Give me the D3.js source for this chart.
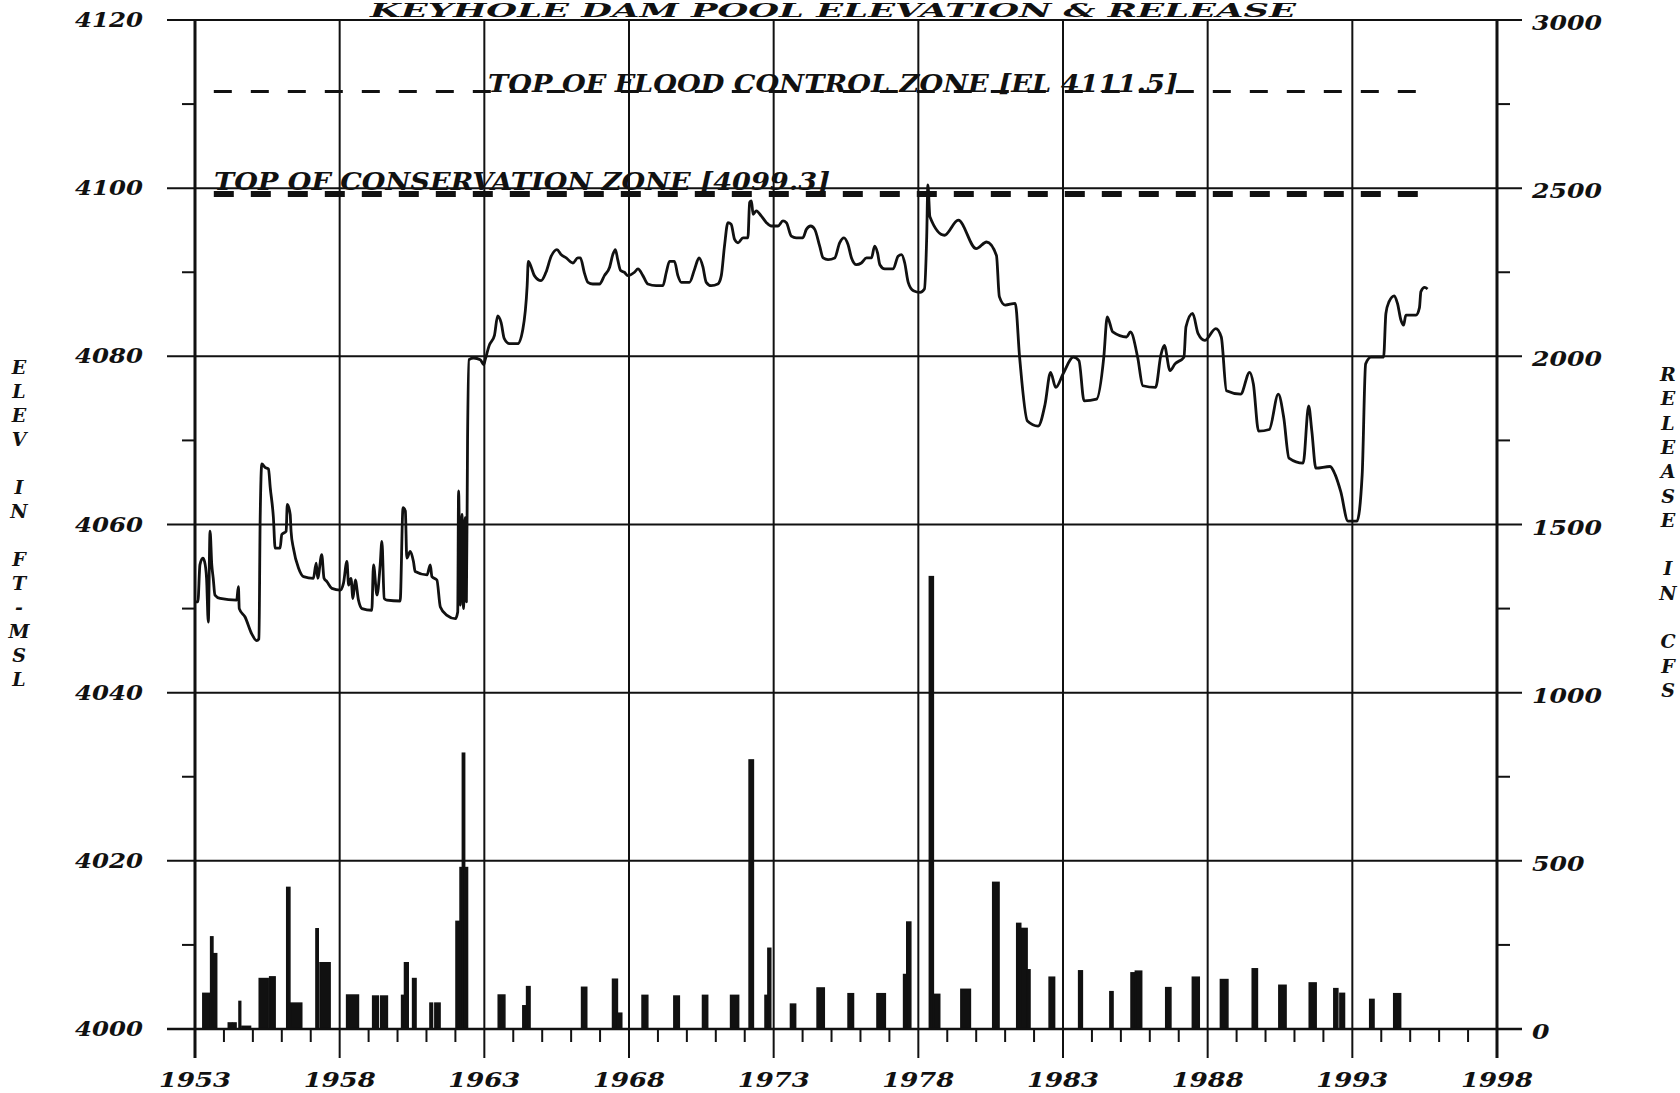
<!DOCTYPE html>
<html><head><meta charset="utf-8">
<script src="https://cdn.jsdelivr.net/npm/d3@7"></script>
<style>
html,body{margin:0;padding:0;background:#fff;}
svg{display:block;}
text{font-family:"DejaVu Serif",serif;font-weight:bold;font-style:italic;fill:#111;}
</style></head>
<body>
<svg id="chart" width="1680" height="1093"></svg>
<script>
// ---------- DATA ----------
const titleText = "KEYHOLE DAM POOL ELEVATION & RELEASE";
const leftTitle = "ELEV IN FT-MSL";
const rightTitle = "RELEASE IN CFS";
const yearTicks = [1953,1958,1963,1968,1973,1978,1983,1988,1993,1998];
const elevTicks = [4000,4020,4040,4060,4080,4100,4120];
const cfsTicks = [0,500,1000,1500,2000,2500,3000];
const floodElev = 4111.5, floodLabel = "TOP OF FLOOD CONTROL ZONE [EL 4111.5]";
const consElev = 4099.3, consLabel = "TOP OF CONSERVATION ZONE [4099.3]";

const elevYears = [
1953.00,1953.10,1953.17,1953.27,1953.33,1953.40,1953.46,1953.52,1953.58,1953.63,1953.69,1953.87,
1954.44,1954.50,1954.53,1954.73,1954.96,1955.13,1955.21,1955.25,1955.31,1955.42,1955.54,1955.60,
1955.71,1955.77,1955.94,1956.00,1956.15,1956.19,1956.29,1956.32,1956.40,1956.58,1956.75,1957.09,
1957.19,1957.24,1957.38,1957.46,1957.56,1957.73,1958.02,1958.13,1958.25,1958.31,1958.39,1958.46,
1958.54,1958.65,1958.77,1959.11,1959.17,1959.29,1959.40,1959.46,1959.54,1959.63,1960.09,1960.19,
1960.27,1960.32,1960.44,1960.55,1960.61,1961.02,1961.13,1961.19,1961.36,1961.48,1961.71,1962.00,
1962.08,1962.11,1962.17,1962.23,1962.28,1962.34,1962.38,1962.42,1962.47,1962.63,1962.86,1962.98,
1963.03,1963.17,1963.35,1963.46,1963.58,1963.69,1963.87,1964.15,1964.33,1964.48,1964.52,1964.61,
1964.73,1964.96,1965.13,1965.31,1965.51,1965.65,1965.83,1966.06,1966.23,1966.32,1966.46,1966.58,
1966.75,1966.98,1967.15,1967.33,1967.44,1967.53,1967.61,1967.71,1967.84,1967.96,1968.19,1968.31,
1968.48,1968.65,1968.94,1969.17,1969.29,1969.40,1969.57,1969.69,1969.81,1970.09,1970.27,1970.42,
1970.55,1970.67,1970.84,1971.07,1971.19,1971.30,1971.42,1971.53,1971.65,1971.77,1971.94,1972.11,
1972.17,1972.23,1972.29,1972.40,1972.57,1972.75,1972.92,1973.15,1973.32,1973.44,1973.61,1973.78,
1974.01,1974.13,1974.28,1974.42,1974.59,1974.71,1974.88,1975.11,1975.28,1975.43,1975.57,1975.69,
1975.86,1976.03,1976.21,1976.38,1976.49,1976.59,1976.67,1976.84,1977.13,1977.30,1977.42,1977.53,
1977.65,1977.83,1978.06,1978.21,1978.29,1978.33,1978.40,1978.90,1979.38,1980.00,1980.36,1980.70,
1980.80,1981.00,1981.35,1981.50,1981.77,1982.14,1982.38,1982.57,1982.75,1983.00,1983.36,1983.55,
1983.73,1984.16,1984.41,1984.53,1984.72,1985.20,1985.33,1985.58,1985.76,1986.20,1986.38,1986.50,
1986.70,1986.87,1987.18,1987.25,1987.48,1987.67,1987.90,1988.28,1988.47,1988.65,1989.14,1989.45,
1989.58,1989.76,1990.13,1990.44,1990.63,1990.81,1991.30,1991.49,1991.60,1991.74,1992.23,1992.41,
1992.60,1992.85,1993.16,1993.34,1993.46,1993.65,1994.08,1994.16,1994.27,1994.45,1994.56,1994.68,
1994.77,1994.85,1995.20,1995.32,1995.37,1995.50,1995.60];
const elevFt = [
4050.8,4050.8,4055.2,4056.0,4055.6,4053.6,4048.4,4059.2,4055.2,4053.6,4051.6,4051.2,
4051.0,4052.6,4050.0,4049.0,4047.0,4046.2,4046.4,4060.0,4067.2,4066.8,4066.6,4064.4,
4060.8,4057.2,4057.2,4058.8,4059.2,4062.4,4061.2,4059.2,4057.2,4054.8,4053.8,4053.6,
4055.4,4053.6,4056.4,4053.6,4053.2,4052.4,4052.2,4053.0,4055.6,4052.8,4053.6,4051.2,
4053.4,4051.0,4050.0,4049.8,4055.2,4051.6,4055.2,4058.0,4051.2,4051.0,4050.9,4062.0,
4061.6,4056.0,4056.8,4055.6,4054.4,4054.0,4055.2,4053.8,4053.4,4050.2,4049.2,4048.8,
4049.6,4064.0,4050.4,4061.2,4050.0,4060.8,4050.8,4070.0,4079.6,4079.8,4079.6,4079.0,
4079.6,4081.3,4082.5,4084.8,4084.0,4082.1,4081.5,4081.5,4083.2,4088.4,4091.3,4090.7,
4089.6,4089.0,4090.0,4091.9,4092.7,4092.1,4091.7,4091.1,4091.7,4091.7,4089.9,4088.8,
4088.6,4088.6,4089.6,4090.6,4092.1,4092.7,4091.5,4090.2,4090.0,4089.6,4090.0,4090.4,
4089.6,4088.6,4088.4,4088.4,4090.0,4091.3,4091.3,4089.6,4088.8,4088.8,4090.4,4091.7,
4090.7,4088.8,4088.4,4088.6,4089.6,4093.1,4095.9,4095.7,4093.9,4093.5,4094.1,4094.1,
4098.3,4098.5,4096.9,4097.3,4096.7,4095.9,4095.5,4095.5,4096.1,4095.9,4094.3,4094.1,
4094.1,4095.1,4095.5,4095.1,4093.1,4091.7,4091.5,4091.7,4093.5,4094.1,4093.3,4091.7,
4090.9,4091.1,4091.7,4091.7,4093.1,4092.3,4090.9,4090.4,4090.4,4091.9,4092.1,4091.1,
4088.8,4087.8,4087.6,4088.0,4094.3,4100.4,4096.6,4094.4,4096.2,4092.8,4093.6,4092.0,
4087.1,4086.1,4086.3,4079.9,4072.3,4071.7,4074.3,4078.1,4076.3,4077.9,4079.9,4079.5,
4074.7,4074.9,4079.9,4084.7,4082.9,4082.3,4082.9,4079.9,4076.5,4076.3,4080.1,4081.3,
4078.3,4079.1,4079.9,4083.5,4085.1,4082.7,4081.9,4083.3,4082.3,4075.9,4075.5,4078.1,
4076.7,4071.1,4071.3,4075.5,4072.7,4067.9,4067.3,4074.1,4071.1,4066.7,4066.9,4065.9,
4063.9,4060.4,4060.4,4065.9,4079.1,4079.9,4079.9,4085.1,4086.5,4087.2,4086.3,4084.3,
4083.7,4084.9,4084.9,4085.8,4087.7,4088.2,4088.0];

const relStart = [1953.27,1953.54,1953.62,1954.15,1954.30,1954.52,1954.62,1955.22,1955.58,1956.17,1956.30,
1957.18,1957.32,1958.24,1959.14,1959.42,1960.14,1960.24,1960.52,1961.12,1961.29,1962.02,1962.16,1962.24,
1962.32,1963.48,1964.33,1964.46,1966.36,1967.43,1967.60,1968.45,1969.55,1970.54,1971.51,1972.15,1972.70,
1972.80,1973.58,1974.50,1975.57,1976.57,1977.49,1977.60,1978.38,1978.52,1979.47,1980.57,1981.40,1981.54,
1981.76,1982.52,1983.54,1984.62,1985.35,1985.50,1986.55,1987.47,1988.44,1989.54,1990.46,1991.51,1992.36,
1992.57,1993.60,1994.43];
const relEnd = [1953.54,1953.62,1953.75,1954.27,1954.42,1954.58,1954.92,1955.53,1955.77,1956.28,1956.69,
1957.26,1957.67,1958.65,1959.34,1959.65,1960.24,1960.37,1960.64,1961.21,1961.47,1962.16,1962.24,1962.32,
1962.42,1963.71,1964.46,1964.58,1966.54,1967.60,1967.75,1968.65,1969.74,1970.72,1971.79,1972.30,1972.80,
1972.90,1973.76,1974.75,1975.76,1976.86,1977.60,1977.74,1978.52,1978.74,1979.80,1980.79,1981.54,1981.76,
1981.86,1982.71,1983.67,1984.73,1985.50,1985.72,1986.73,1987.71,1988.70,1989.72,1990.71,1991.75,1992.50,
1992.73,1993.75,1994.67];
const relCfs = [106,274,224,18,18,82,8,150,155,421,77,
298,197,101,98,98,100,197,150,77,77,320,480,820,
480,101,69,126,124,148,47,100,98,100,100,800,100,
240,74,122,105,105,162,318,1345,103,118,436,314,299,
176,154,173,111,167,172,123,154,147,179,130,137,120,
106,88,105];

// ---------- LAYOUT ----------
const svg = d3.select("#chart");
const X0 = 195, X1 = 1497, Y0 = 1029, Y1 = 20;
const x = d3.scaleLinear().domain([1953,1998]).range([X0,X1]);
const y = d3.scaleLinear().domain([4000,4120]).range([Y0,Y1]);
const yR = d3.scaleLinear().domain([0,3000]).range([Y0,Y1]);
const ink = "#111";

// horizontal grid
svg.append("g").selectAll("line").data(elevTicks).join("line")
  .attr("x1",167).attr("x2",1522).attr("y1",d=>y(d)).attr("y2",d=>y(d))
  .attr("stroke",ink).attr("stroke-width",2);
// vertical grid
svg.append("g").selectAll("line").data(yearTicks).join("line")
  .attr("x1",d=>x(d)).attr("x2",d=>x(d)).attr("y1",Y1).attr("y2",1058)
  .attr("stroke",ink).attr("stroke-width",d=>(d===1953||d===1998)?2.6:2);
// minor year ticks
const minorYears = d3.range(1954,1998).filter(d=>(d-1953)%5!==0);
svg.append("g").selectAll("line").data(minorYears).join("line")
  .attr("x1",d=>x(d)).attr("x2",d=>x(d)).attr("y1",Y0).attr("y2",Y0+13)
  .attr("stroke",ink).attr("stroke-width",2);
// minor y ticks
const minorElev = d3.range(4010,4120,20);
svg.append("g").selectAll("line").data(minorElev).join("line")
  .attr("x1",X0-13).attr("x2",X0).attr("y1",d=>y(d)).attr("y2",d=>y(d))
  .attr("stroke",ink).attr("stroke-width",2);
const minorCfs = d3.range(250,3000,500);
svg.append("g").selectAll("line").data(minorCfs).join("line")
  .attr("x1",X1).attr("x2",X1+13).attr("y1",d=>yR(d)).attr("y2",d=>yR(d))
  .attr("stroke",ink).attr("stroke-width",2);

// tick labels
svg.append("g").selectAll("text").data(elevTicks).join("text")
  .attr("x",75).attr("y",d=>y(d)+7).attr("textLength",68).attr("lengthAdjust","spacingAndGlyphs")
  .attr("font-size",20).text(d=>d);
svg.append("g").selectAll("text").data(cfsTicks).join("text")
  .attr("x",1532).attr("y",d=>yR(d)+10)
  .attr("textLength",d=>String(d).length*17.5).attr("lengthAdjust","spacingAndGlyphs")
  .attr("font-size",20).text(d=>d);
svg.append("g").selectAll("text").data(yearTicks).join("text")
  .attr("x",d=>x(d)-36).attr("y",1087).attr("textLength",72).attr("lengthAdjust","spacingAndGlyphs")
  .attr("font-size",20).text(d=>d);

// axis titles (stacked letters)
svg.append("g").selectAll("text").data(leftTitle.split("")).join("text")
  .attr("x",19).attr("y",(d,i)=>374+i*24).attr("text-anchor","middle")
  .attr("font-size",19).text(d=>d);
svg.append("g").selectAll("text").data(rightTitle.split("")).join("text")
  .attr("x",1668).attr("y",(d,i)=>381+i*24.3).attr("text-anchor","middle")
  .attr("font-size",19).text(d=>d);

// title
svg.append("text").attr("x",370).attr("y",17).attr("textLength",926)
  .attr("lengthAdjust","spacingAndGlyphs").attr("font-size",18).text(titleText);

// zone lines
const zoneStart = 1953.65, zoneEnd = 1995.55;
svg.append("line").attr("x1",x(zoneStart)).attr("x2",x(zoneEnd))
  .attr("y1",y(floodElev)).attr("y2",y(floodElev))
  .attr("stroke",ink).attr("stroke-width",3).attr("stroke-dasharray","18 19");
svg.append("text").attr("x",488).attr("y",y(floodElev)+1).attr("textLength",690)
  .attr("lengthAdjust","spacingAndGlyphs").attr("font-size",24).text(floodLabel);
svg.append("line").attr("x1",x(zoneStart)).attr("x2",x(zoneEnd))
  .attr("y1",y(consElev)).attr("y2",y(consElev))
  .attr("stroke",ink).attr("stroke-width",6).attr("stroke-dasharray","20 17");
svg.append("text").attr("x",214).attr("y",y(consElev)-4).attr("textLength",616)
  .attr("lengthAdjust","spacingAndGlyphs").attr("font-size",24).text(consLabel);

// release bars
const rel = relStart.map((s,i)=>({s,e:relEnd[i],v:relCfs[i]}));
svg.append("g").selectAll("rect").data(rel).join("rect")
  .attr("x",d=>x(d.s)).attr("width",d=>Math.max(1.5,x(d.e)-x(d.s)))
  .attr("y",d=>yR(d.v)).attr("height",d=>yR(0)-yR(d.v))
  .attr("fill",ink).attr("stroke",ink).attr("stroke-width",1.5);

// elevation line
const elev = elevYears.map((t,i)=>[t,elevFt[i]]);
svg.append("path").datum(elev)
  .attr("d",d3.line().curve(d3.curveMonotoneX).x(d=>x(d[0])).y(d=>y(d[1])))
  .attr("fill","none").attr("stroke",ink).attr("stroke-width",2.8).attr("stroke-linejoin","round");

// axes lines on top
svg.append("line").attr("x1",X0).attr("x2",X0).attr("y1",Y1).attr("y2",1058).attr("stroke",ink).attr("stroke-width",2.6);
svg.append("line").attr("x1",X1).attr("x2",X1).attr("y1",Y1).attr("y2",1058).attr("stroke",ink).attr("stroke-width",2.6);
svg.append("line").attr("x1",167).attr("x2",1522).attr("y1",Y0).attr("y2",Y0).attr("stroke",ink).attr("stroke-width",2.6);
</script>
</body></html>
